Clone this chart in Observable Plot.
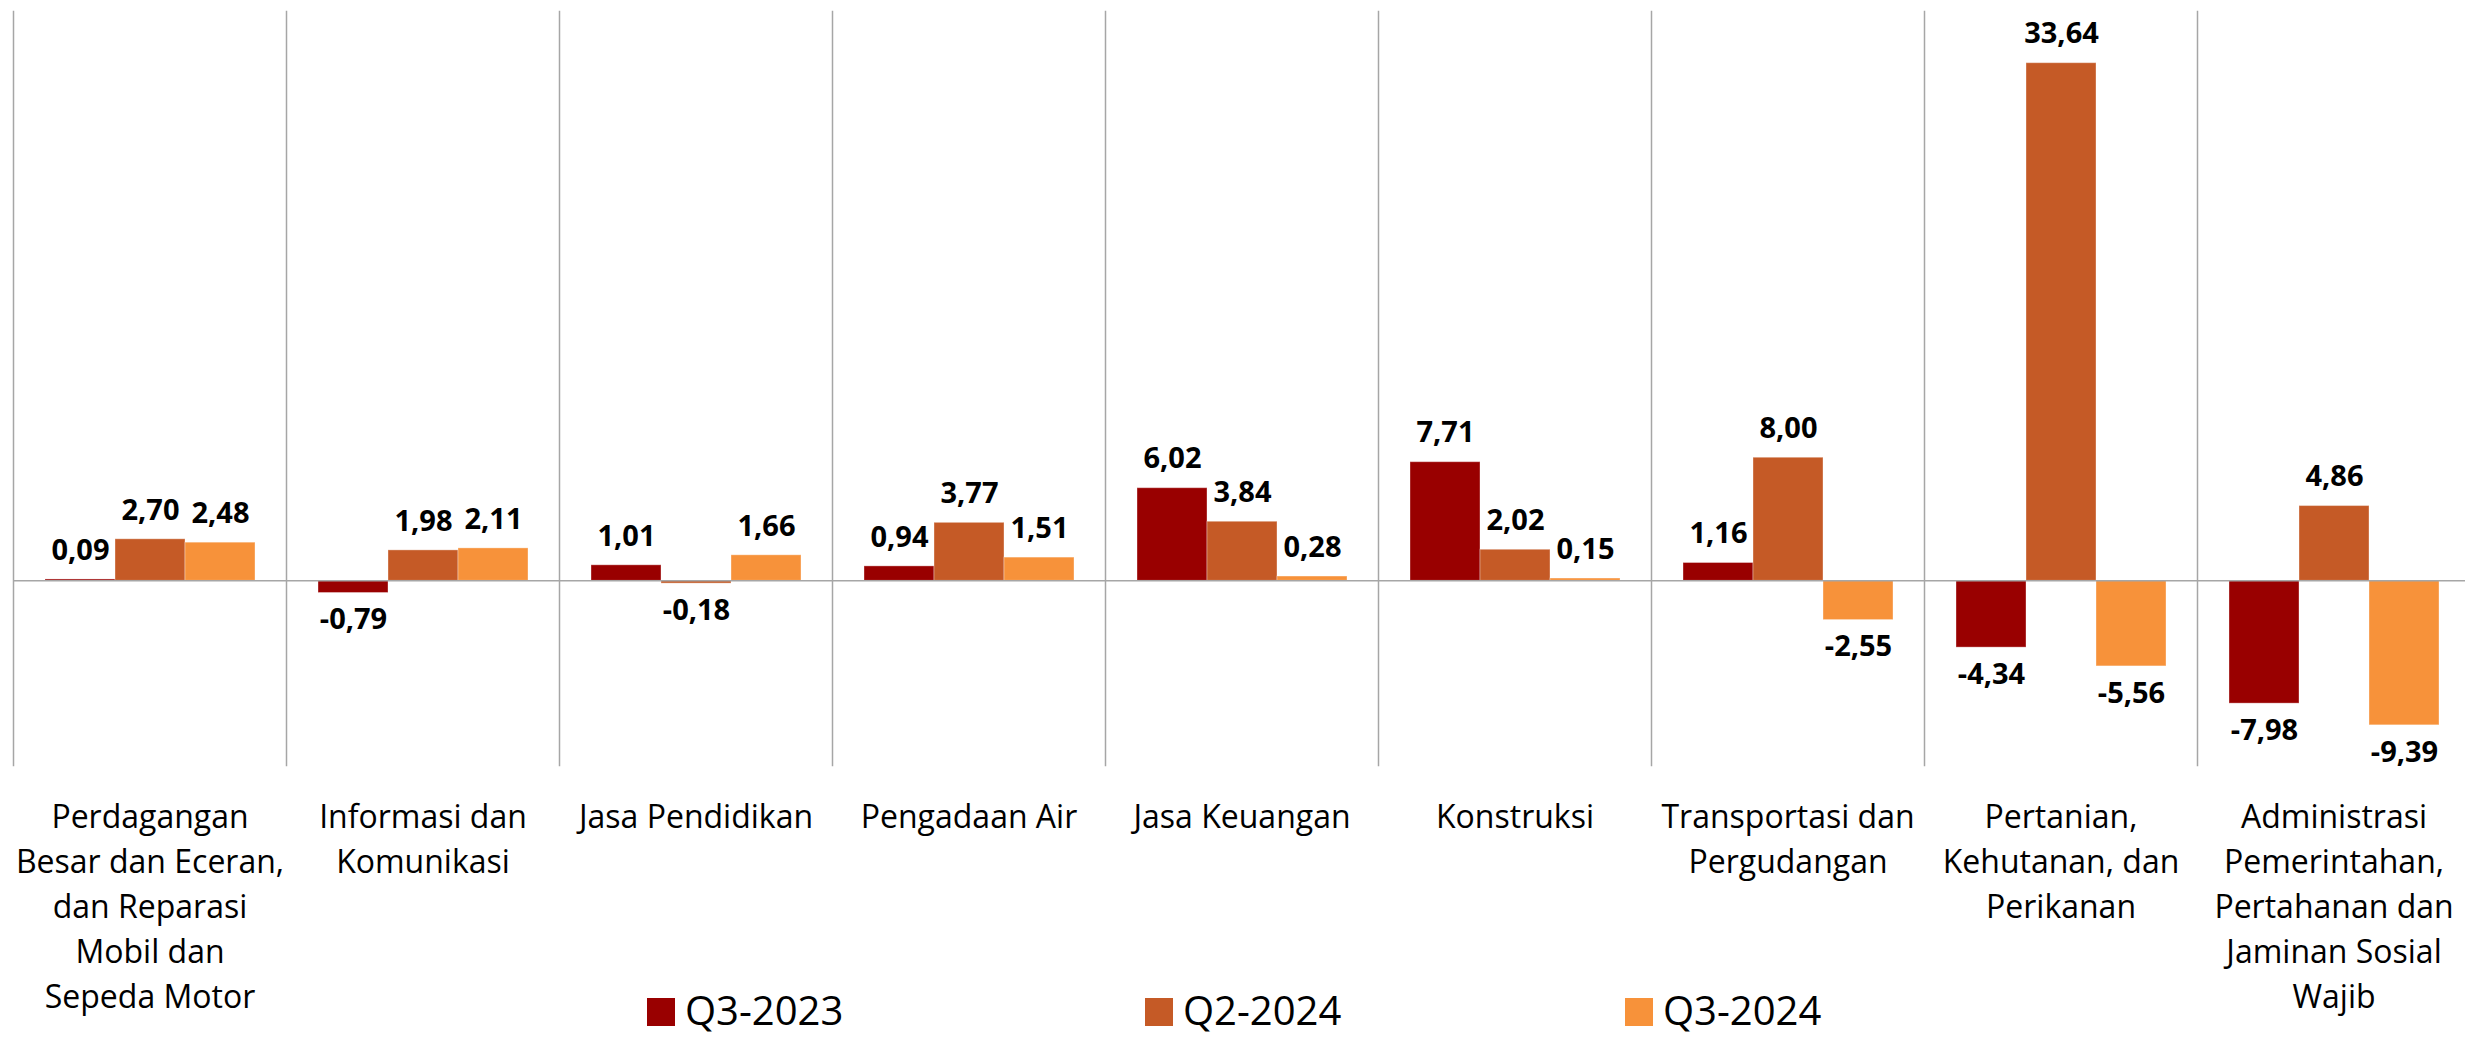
<!DOCTYPE html>
<html><head><meta charset="utf-8">
<script src="https://cdn.jsdelivr.net/npm/d3@7"></script>
<script src="https://cdn.jsdelivr.net/npm/@observablehq/plot@0.6"></script>
<style>
body{margin:0;background:#fff;font-family:"Open Sans",sans-serif;overflow:hidden;}
#chart svg{display:block;overflow:visible}
#legend{position:relative;width:2465px;height:37px;}
.item{position:absolute;top:0;height:37px;}
.sw{position:absolute;top:-2px;left:0;width:28px;height:28px;}
.lb{position:absolute;left:38px;top:-7.5px;font-size:40px;line-height:34px;white-space:nowrap;color:#000;}
</style></head><body>
<div id="chart"></div><div id="legend"></div>
<script>
const categories = [
  "Perdagangan\nBesar dan Eceran,\ndan Reparasi\nMobil dan\nSepeda Motor",
  "Informasi dan\nKomunikasi",
  "Jasa Pendidikan",
  "Pengadaan Air",
  "Jasa Keuangan",
  "Konstruksi",
  "Transportasi dan\nPergudangan",
  "Pertanian,\nKehutanan, dan\nPerikanan",
  "Administrasi\nPemerintahan,\nPertahanan dan\nJaminan Sosial\nWajib"
];
const series = ["Q3-2023", "Q2-2024", "Q3-2024"];
const q3_2023 = [0.09, -0.79, 1.01, 0.94, 6.02, 7.71, 1.16, -4.34, -7.98];
const q2_2024 = [2.70, 1.98, -0.18, 3.77, 3.84, 2.02, 8.00, 33.64, 4.86];
const q3_2024 = [2.48, 2.11, 1.66, 1.51, 0.28, 0.15, -2.55, -5.56, -9.39];
const colors = ["#990000", "#c55a26", "#f7923a"];
const yDomain = [-12, 37];

const seriesValues = [q3_2023, q2_2024, q3_2024];
const rows = [];
categories.forEach((c, i) => {
  seriesValues.forEach((arr, j) => rows.push({cat: c, series: series[j], value: arr[i]}));
});
const fmt = v => v.toFixed(2).replace(".", ",");

const chart = Plot.plot({
  width: 2465,
  height: 1000,
  marginTop: 11,
  marginBottom: 235,
  marginLeft: 11,
  marginRight: 0,
  fx: {domain: categories, range: [11, 2472.5], padding: 0, label: null},
  x: {domain: series, paddingInner: 0, paddingOuter: 0.445, axis: null},
  y: {domain: yDomain, axis: null},
  color: {domain: series, range: colors},
  style: {fontFamily: "'Open Sans', sans-serif", background: "#fff", color: "#000", overflow: "visible"},
  marks: [
    Plot.frame({anchor: "left", stroke: "#a6a6a6", strokeWidth: 1.5}),
    Plot.barY(rows, {fx: "cat", x: "series", y: "value", fill: "series", stroke: "#fff", strokeOpacity: 0.35, strokeWidth: 1}),
    Plot.ruleY([0], {stroke: "#a6a6a6", strokeWidth: 1.5}),
    Plot.text(rows.filter(d => d.value >= 0), {fx: "cat", x: "series", y: "value", text: d => fmt(d.value), dy: -29, lineAnchor: "middle", fontSize: 29, fontWeight: 700, fill: "#000"}),
    Plot.text(rows.filter(d => d.value < 0), {fx: "cat", x: "series", y: "value", text: d => fmt(d.value), dy: 27, lineAnchor: "middle", fontSize: 29, fontWeight: 700, fill: "#000"}),
    Plot.axisFx({anchor: "bottom", tickSize: 0, tickPadding: 30, fontSize: 32, lineHeight: 1.41, label: null, fill: "#000"})
  ]
});
document.getElementById("chart").appendChild(chart);

const legendLeft = [647, 1145, 1625];
const legend = document.getElementById("legend");
series.forEach((s, i) => {
  const item = document.createElement("div");
  item.className = "item";
  item.style.left = legendLeft[i] + "px";
  const sw = document.createElement("span");
  sw.className = "sw";
  sw.style.background = colors[i];
  const lb = document.createElement("span");
  lb.className = "lb";
  lb.textContent = s;
  item.appendChild(sw);
  item.appendChild(lb);
  legend.appendChild(item);
});
</script>
</body></html>
